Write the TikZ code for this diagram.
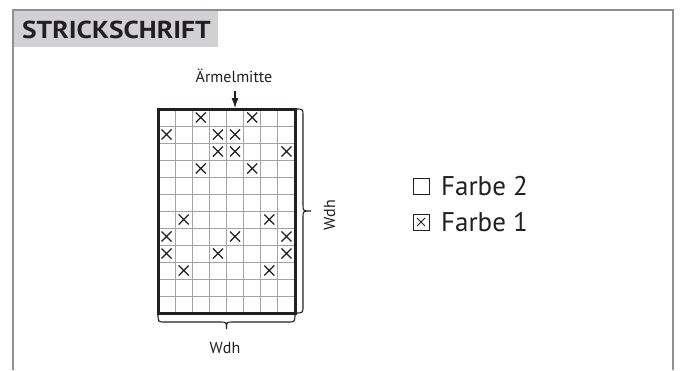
\documentclass[tikz,border=0pt]{standalone}
\usepackage{fontspec}
\setmainfont{PT Sans}
\newfontfamily\titlefont[FakeStretch=1.12]{PT Sans}
\usetikzlibrary{arrows.meta}
\definecolor{ink}{HTML}{231F20}
\definecolor{titlegray}{HTML}{D1D1D3}
\definecolor{framegray}{HTML}{8C9196}
\definecolor{gridgray}{HTML}{A3A3A3}
\tikzset{
  frameline/.style={draw=framegray, line width=1.4pt},
  gridline/.style={draw=gridgray, line width=0.9pt},
  border/.style={draw=ink, line width=3pt},
  xmark/.style={draw=ink, line width=1.3pt},
  braceline/.style={draw=ink, line width=1.1pt},
  lbl/.style={text=ink, inner sep=0pt, font=\fontsize{16}{18}\selectfont},
  legtext/.style={text=ink, inner sep=0pt, font=\fontsize{27}{29}\selectfont},
  legbox/.style={draw=ink, line width=0.9pt, minimum size=16pt, inner sep=0pt},
  arrowline/.style={draw=ink, line width=1.1pt, -{Latex[length=10pt,width=7pt]}},
}
\begin{document}
\begin{tikzpicture}[x=1pt,y=-1pt]
\useasboundingbox (0,0) rectangle (680,370);
% frame and title
\fill[titlegray] (13,10) rectangle (218,47);
\draw[frameline] (13,370) -- (13,10) -- (673,10) -- (673,370);
\node[anchor=base west, inner sep=0pt, text=ink, font=\titlefont\bfseries\fontsize{24.5}{26}\selectfont] (title) at (22,38) {STRICKSCHRIFT};
% grid
\coordinate (gtl) at (158,109);
\coordinate (gtr) at (295,109);
\coordinate (gbl) at (158,313);
\coordinate (gbr) at (295,313);
\def\cw{17.125}
\def\ch{17}
\foreach \i in {1,...,7} \draw[gridline] (158+\i*\cw,109) -- (158+\i*\cw,313);
\foreach \j in {1,...,11} \draw[gridline] (158,109+\j*\ch) -- (295,109+\j*\ch);
\foreach \c/\r in {2/0,5/0,0/1,3/1,4/1,3/2,4/2,7/2,2/3,5/3,1/6,6/6,0/7,4/7,7/7,0/8,3/8,7/8,1/9,6/9}
  \draw[xmark, shift={(158+\c*\cw+\cw/2,109+\r*\ch+\ch/2)}] (-5,-5) -- (5,5) (-5,5) -- (5,-5);
\draw[border] (gtl) -- (gtr) -- (gbr) -- (gbl) -- cycle;
% sleeve centre
\node[lbl, anchor=base] (arm) at (234,82) {Ärmelmitte};
\coordinate (armtip) at (235,108);
\coordinate (armstart) at (235,91);
\draw[arrowline] (armstart) -- (armtip);
% right brace
\draw[braceline] (gtr) .. controls (303,109) .. (303,116) -- (303,205) .. controls (303,211) .. (311,211)
  .. controls (303,211) .. (303,217) -- (303,306) .. controls (303,313) .. (gbr);
\node[lbl, rotate=90, anchor=base] (wdhr) at (335,215) {Wdh};
% bottom brace
\draw[braceline] (gbl) .. controls (158,322) .. (165,322) -- (220,322) .. controls (226.5,322) .. (226.5,329)
  .. controls (226.5,322) .. (233,322) -- (288,322) .. controls (295,322) .. (gbr);
\node[lbl, anchor=base] (wdhb) at (225,353) {Wdh};
% legend
\node[legbox] (b2) at (421,186) {};
\node[legbox] (b1) at (421,222) {};
\draw[draw=ink, line width=0.9pt] ([shift={(-4,-4)}]b1.center) -- ([shift={(4,4)}]b1.center)
  ([shift={(-4,4)}]b1.center) -- ([shift={(4,-4)}]b1.center);
\node[legtext, anchor=base west] (f2) at (441,195) {Farbe 2};
\node[legtext, anchor=base west] (f1) at (441,231) {Farbe 1};
\end{tikzpicture}
\end{document}
